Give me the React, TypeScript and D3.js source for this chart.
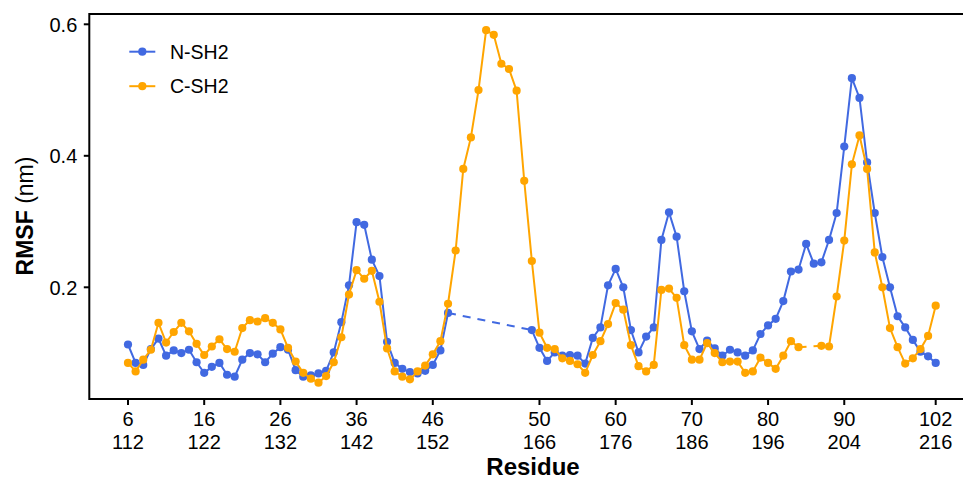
import React from "react";
import * as d3 from "d3";

// Alignment positions (x index) for both domains
const nPositions: number[] = [
  0,1,2,3,4,5,6,7,8,9,10,11,12,13,14,15,16,17,18,19,20,21,22,23,24,25,26,27,28,29,30,31,32,33,34,35,36,37,38,39,40,41,42,
  53,54,55,56,57,58,59,60,61,62,63,64,65,66,67,68,69,70,71,72,73,74,75,76,77,78,79,80,81,82,83,84,85,86,87,88,89,90,91,92,93,94,95,96,97,98,99,100,101,102,103,104,105,106,
];
const nRmsf: number[] = [
  0.113,0.085,0.082,0.106,0.122,0.096,0.104,0.100,0.105,0.086,0.070,0.079,0.085,0.067,0.064,0.090,0.100,0.098,0.086,0.099,0.109,0.105,0.074,0.064,0.066,0.069,0.073,0.101,0.147,0.203,0.299,0.295,0.242,0.217,0.117,0.085,0.076,0.071,0.069,0.073,0.082,0.104,0.161,
  0.135,0.108,0.088,0.101,0.096,0.097,0.096,0.084,0.123,0.139,0.203,0.228,0.200,0.135,0.101,0.125,0.139,0.272,0.314,0.277,0.194,0.133,0.106,0.119,0.107,0.096,0.105,0.101,0.096,0.104,0.129,0.142,0.152,0.179,0.224,0.227,0.266,0.236,0.238,0.272,0.313,0.414,0.518,0.488,0.390,0.313,0.246,0.200,0.156,0.139,0.120,0.102,0.095,0.085,
];
const cPositions: number[] = [
  0,1,2,3,4,5,6,7,8,9,10,11,12,13,14,15,16,17,18,19,20,21,22,23,24,25,26,27,28,29,30,31,32,33,34,35,36,37,38,39,40,41,42,43,44,45,46,47,48,49,50,
  51,52,53,54,55,56,57,58,59,60,61,62,63,64,65,66,67,68,69,70,71,72,73,74,75,76,77,78,79,80,81,82,83,84,85,86,87,88,
  91,92,93,94,95,96,97,98,99,100,101,102,103,104,105,106,
];
const cRmsf: number[] = [
  0.085,0.072,0.090,0.105,0.146,0.116,0.132,0.146,0.133,0.114,0.097,0.110,0.121,0.106,0.102,0.138,0.150,0.148,0.153,0.146,0.136,0.108,0.087,0.070,0.061,0.055,0.065,0.086,0.124,0.189,0.226,0.213,0.225,0.178,0.107,0.072,0.064,0.060,0.072,0.081,0.098,0.118,0.175,0.256,0.380,0.428,0.500,0.591,0.584,0.540,0.532,
  0.499,0.362,0.240,0.131,0.108,0.106,0.092,0.088,0.083,0.070,0.097,0.118,0.144,0.176,0.166,0.112,0.080,0.072,0.082,0.196,0.198,0.184,0.112,0.090,0.090,0.115,0.100,0.086,0.087,0.087,0.070,0.072,0.093,0.085,0.076,0.096,0.118,0.109,
  0.111,0.110,0.186,0.271,0.387,0.431,0.380,0.253,0.200,0.138,0.109,0.084,0.092,0.106,0.126,0.172,
];

const tickPositions: number[] = [0, 10, 20, 30, 40, 54, 64, 74, 84, 94, 106];
const nTickLabels: string[] = ["6", "16", "26", "36", "46", "50", "60", "70", "80", "90", "102"];
const cTickLabels: string[] = ["112", "122", "132", "142", "152", "166", "176", "186", "196", "204", "216"];
const yTicks: number[] = [0.2, 0.4, 0.6];

const seriesNames = ["N-SH2", "C-SH2"];
const seriesColors = ["#4169E1", "#FFA500"];

const W = 963;
const H = 481;
const LEFT = 89.3;
const TOP = 14;
const BOTTOM = 399;
const FONT = "'Liberation Sans', Arial, Helvetica, sans-serif";

type Pt = { x: number; y: number };

function buildSeries(pos: number[], vals: number[]): Pt[] {
  return pos.map((p, i) => ({ x: p, y: vals[i] }));
}

export default function App() {
  const x = d3.scaleLinear().domain([0, 106]).range([128, 935.7]);
  const y = d3.scaleLinear().domain([0.2, 0.6]).range([287.3, 24.3]);

  const line = d3
    .line<Pt>()
    .x((d) => x(d.x))
    .y((d) => y(d.y));

  const series = [buildSeries(nPositions, nRmsf), buildSeries(cPositions, cRmsf)];

  const renderSeries = (pts: Pt[], color: string, key: string) => {
    const runs: Pt[][] = [];
    let cur: Pt[] = [];
    pts.forEach((p, i) => {
      if (i > 0 && p.x - pts[i - 1].x > 1) {
        runs.push(cur);
        cur = [];
      }
      cur.push(p);
    });
    runs.push(cur);
    const gaps: Pt[][] = [];
    for (let i = 1; i < runs.length; i++) {
      gaps.push([runs[i - 1][runs[i - 1].length - 1], runs[i][0]]);
    }
    return (
      <g key={key}>
        {runs.map((r, i) => (
          <path key={"r" + i} d={line(r) || ""} fill="none" stroke={color} strokeWidth={2} />
        ))}
        {gaps.map((g, i) => (
          <path key={"g" + i} d={line(g) || ""} fill="none" stroke={color} strokeWidth={2} strokeDasharray="8,7" />
        ))}
        {pts.map((p, i) => (
          <circle key={"c" + i} cx={x(p.x)} cy={y(p.y)} r={4.1} fill={color} />
        ))}
      </g>
    );
  };

  return (
    <svg
      width={W}
      height={H}
      style={{ position: "absolute", left: 0, top: 0, background: "#fff" }}
      fontFamily={FONT}
    >
      <rect x={0} y={0} width={W} height={H} fill="#fff" />
      {series.map((s, i) => renderSeries(s, seriesColors[i], seriesNames[i]))}

      {/* frame */}
      <line x1={LEFT} x2={W + 5} y1={TOP} y2={TOP} stroke="#000" strokeWidth={2} />
      <line x1={LEFT} x2={W + 5} y1={BOTTOM} y2={BOTTOM} stroke="#000" strokeWidth={2} />
      <line x1={LEFT} x2={LEFT} y1={TOP - 1} y2={BOTTOM + 1} stroke="#000" strokeWidth={2} />

      {/* y ticks */}
      {yTicks.map((t) => (
        <g key={t}>
          <line x1={LEFT - 5.5} x2={LEFT} y1={y(t)} y2={y(t)} stroke="#000" strokeWidth={2} />
          <text x={LEFT - 12} y={y(t)} dy="0.36em" textAnchor="end" fontSize={20} fill="#000">
            {t.toFixed(1)}
          </text>
        </g>
      ))}

      {/* x ticks */}
      {tickPositions.map((p, i) => (
        <g key={p}>
          <line x1={x(p)} x2={x(p)} y1={BOTTOM} y2={BOTTOM + 6} stroke="#000" strokeWidth={2} />
          <text x={x(p)} y={425.7} textAnchor="middle" fontSize={20} fill="#000">
            {nTickLabels[i]}
          </text>
          <text x={x(p)} y={449} textAnchor="middle" fontSize={20} fill="#000">
            {cTickLabels[i]}
          </text>
        </g>
      ))}

      {/* axis titles */}
      <text x={533} y={475} textAnchor="middle" fontSize={24} fontWeight="bold" fill="#000">
        Residue
      </text>
      <text
        transform={`translate(33,${216}) rotate(-90)`}
        textAnchor="middle"
        fontSize={23}
        fill="#000"
      >
        <tspan fontWeight="bold">RMSF</tspan>
        <tspan> (nm)</tspan>
      </text>

      {/* legend */}
      {seriesNames.map((n, i) => (
        <g key={n} transform={`translate(0,${51.7 + i * 34.5})`}>
          <line x1={129.3} x2={155.3} y1={0} y2={0} stroke={seriesColors[i]} strokeWidth={2} />
          <circle cx={142.3} cy={0} r={4.1} fill={seriesColors[i]} />
          <text x={170} y={0} dy="0.36em" fontSize={19.5} fill="#000">
            {n}
          </text>
        </g>
      ))}
    </svg>
  );
}
